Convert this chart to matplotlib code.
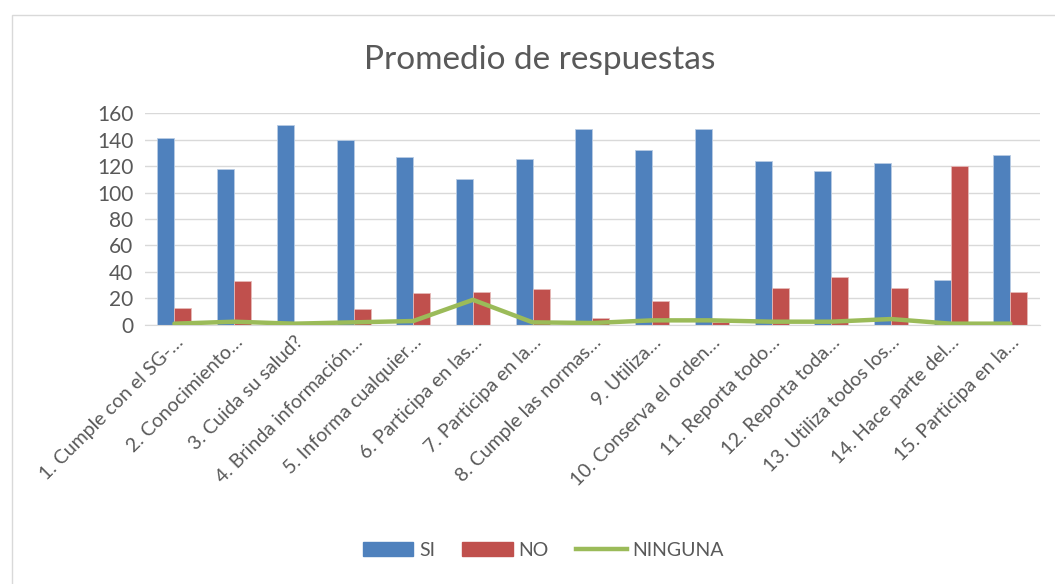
import matplotlib.pyplot as plt
import numpy as np
from matplotlib.lines import Line2D
from matplotlib.patches import Patch, Rectangle

plt.rcParams['font.family'] = ['Lato', 'DejaVu Sans']

# Data
categories = [
    '1. Cumple con el SG-…', '2. Conocimiento…', '3. Cuida su salud?',
    '4. Brinda información…', '5. Informa cualquier…', '6. Participa en las…',
    '7. Participa en la…', '8. Cumple las normas…', '9. Utiliza…',
    '10. Conserva el orden…', '11. Reporta todo…', '12. Reporta toda…',
    '13. Utiliza todos los…', '14. Hace parte del…', '15. Participa en la…',
]
si = [141, 118, 151, 140, 127, 110, 125, 148, 132, 148, 124, 116, 122, 34, 128]
no = [13, 33, 1, 12, 24, 25, 27, 5, 18, 2, 28, 36, 28, 120, 25]
ninguna = [1, 2.5, 1, 2, 3, 19, 2, 1.5, 3.5, 3.5, 2.5, 2.5, 4.5, 1, 1]

blue = '#4F81BD'
red = '#C0504D'
green = '#9BBB59'
gray = '#595959'

fig = plt.figure(figsize=(10.55, 5.84), dpi=100)
ax = fig.add_axes([0.137, 0.4435, 0.849, 0.363])

x = np.arange(len(categories))
w = 0.285
ax.bar(x - w / 2, si, w, color=blue, edgecolor='#b8cce4', linewidth=0.6, zorder=2)
ax.bar(x + w / 2, no, w, color=red, edgecolor='#e6b9b8', linewidth=0.6, zorder=2)
ax.plot(x, ninguna, color=green, linewidth=3.2, zorder=3, solid_capstyle='round')

ax.set_xlim(-0.5, len(categories) - 0.5)
ax.set_ylim(0, 160)
ax.set_yticks(range(0, 161, 20))
ax.yaxis.grid(True, color='#d9d9d9', linewidth=1, zorder=0)
ax.set_axisbelow(True)
for s in ['top', 'right', 'left']:
    ax.spines[s].set_visible(False)
ax.spines['bottom'].set_color('#d9d9d9')
ax.tick_params(axis='y', length=0, labelsize=15, colors=gray, pad=8)
ax.tick_params(axis='x', length=0, colors=gray, pad=6)
ax.set_xticks(x)
ax.set_xticklabels(categories, rotation=45, ha='right', rotation_mode='anchor',
                   fontsize=14, color=gray)

fig.text(0.512, 0.897, 'Promedio de respuestas', ha='center', va='center',
         fontsize=24, color=gray)

handles = [Patch(color=blue), Patch(color=red), Line2D([0], [0], color=green, linewidth=3.2)]
fig.legend(handles, ['SI', 'NO', 'NINGUNA'], loc='center', bbox_to_anchor=(0.515, 0.058),
           ncol=3, frameon=False, fontsize=14, labelcolor=gray,
           handlelength=2.6, handleheight=0.8, columnspacing=1.4, handletextpad=0.3)

fig.patches.append(Rectangle((0.011, -0.01), 1.0, 0.985, transform=fig.transFigure,
                             fill=False, edgecolor='#d9d9d9', linewidth=1))

fig.savefig('out.png', dpi=100)
